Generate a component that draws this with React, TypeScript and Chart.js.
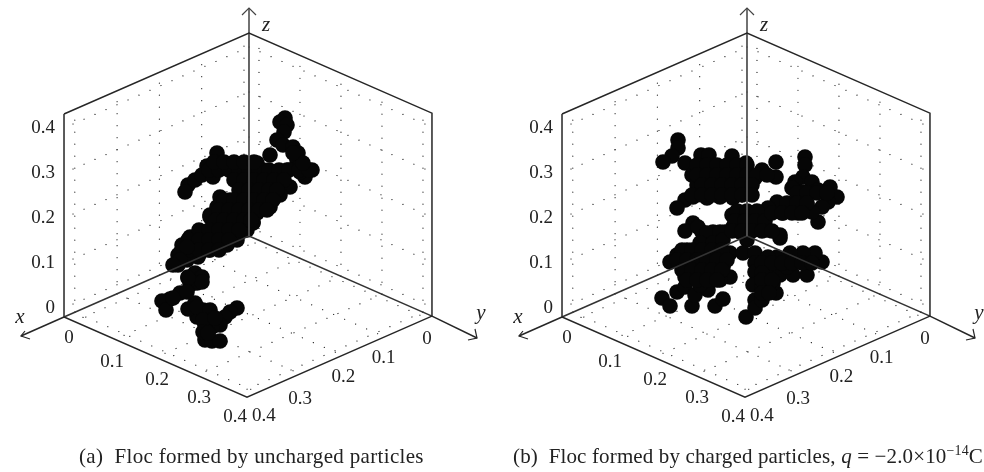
import React, { useEffect, useRef } from "react";
import { Chart, registerables } from "chart.js";

Chart.register(...registerables);

// Axis ticks (shared by x, y and z) and their printed labels
const tickValues = [0, 0.1, 0.2, 0.3, 0.4];
const tickLabels = ["0", "0.1", "0.2", "0.3", "0.4"];
// Box limits of the 3D axes
const xLimits = [-0.0118, 0.4255];
const yLimits = [-0.0244, 0.4219];
const zLimits = [-0.02, 0.431];

// Floc (a): uncharged particles, in projected plot units
const flocAU = [-44,-37,-29,-12,-19,-24,-29,-37,-44,-41,-46,-52,-61,-54,-69,-79,-87,-83,-76,-61,-54,-47,-59,-52,-47,-71,-67,-61,-54,-47,-67,-71,-59,-49,-39,-29,-22,-12,-36,-26,-16,-32,-22,-9,4,-39,-2,-52,-42,-62,-51,
  36,31,38,35,28,34,44,49,21,63,56,48,49,41,31,21,4,-32,-42,-61,-64,-54,-47,-36,-22,-7,8,14,24,38,51,1,-12,-29,-32,-39,-19,-6,4,14,-2,-9,-22,-19,-6,1,14,8,-16,-36,-49,-59,-66,-69,
  -40,-30,-20,-10,0,10,20,30,40,50,60,-15,-5,5,15,25,35,-10,0,10,20,28,-25,-15,-5,5,15,24,-30,-20,-10,0,10,18,-33,-25,-15,-5,2,-50,-40,-30,-20,-10,-60,-50,-40,-30,-20,-60,-50,-40,-30,-35,-25,-15,-5,5,54,44,
  -62,-69,-76,-61,-62,-52,-39,-46,-34,-46,-41];
const flocAV = [-104,-105,-105,-72,-76,-81,-89,-91,-89,-81,-74,-81,-73,-67,-57,-63,-65,-74,-62,-41,-37,-41,-49,-47,-46,-29,-17,-4,-1,3,-9,-19,-17,-17,-14,-7,-9,-4,-1,6,9,16,19,16,14,21,6,-11,-6,-24,-21,
  118,114,111,104,96,91,89,83,81,66,59,76,68,49,41,29,13,83,70,51,44,56,61,59,68,71,73,66,63,66,64,63,61,39,29,19,36,46,53,46,29,16,19,6,6,36,33,23,26,9,3,-1,-11,-17,
  66,66,66,66,66,66,66,66,66,66,66,56,56,56,56,56,56,46,46,46,46,46,36,36,36,36,36,36,26,26,26,26,26,26,16,16,16,16,16,6,6,6,6,6,-4,-4,-4,-4,-4,-14,-14,-14,-14,74,74,74,74,74,73,83,
  -11,-24,-29,-42,-56,-71,-74,-84,-82,-96,-97];

// Floc (b): charged particles, in projected plot units
const flocBU = [-69,-69,-75,-84,-62,-46,-38,-15,-1,29,15,29,8,-55,-44,-30,-15,-50,-37,-24,-10,3,-62,-70,-54,-40,-27,-14,58,58,56,48,45,65,83,90,81,75,71,56,60,46,30,36,51,65,71,21,10,-7,-15,-54,-62,-45,-34,-22,-10,3,16,33,
  -49,-40,-27,-14,0,-7,6,20,33,-70,-77,-60,-47,-34,-24,-60,-47,-34,-24,-17,-27,-62,-49,-37,-70,-62,-85,-77,-55,-52,-32,-24,-39,-47,
  -17,-4,8,8,8,6,8,-1,8,15,29,15,26,20,33,46,60,60,75,68,56,43,30,40,21,
  -50,-40,-30,-20,-10,0,-50,-40,-30,-20,-10,0,10,20,-45,-35,-25,-15,-5,5,-55,-45,-35,-25,-15,-5,5,-10,0,10,-12,-2,8,18,-15,-5,5,15,25,50,60,70,80,40,50,60,25,35,45,55,
  -65,-55,-45,-35,-25,-70,-60,-50,-40,-30,-20,-65,-55,-45,-35,-25,-60,-50,-40,-30,15,25,35,45,55,65,15,15,25,15,22];
const flocBV = [96,88,80,74,73,81,81,80,73,74,66,59,58,61,68,66,66,51,54,53,54,48,36,28,39,38,39,38,79,71,59,54,48,54,49,39,34,29,14,44,31,31,34,23,23,24,46,28,24,24,21,13,5,4,4,4,8,18,8,-2,
  9,3,4,9,-4,4,9,6,1,-19,-26,-14,-7,-7,-4,-27,-24,-21,-31,-41,-44,-41,-37,-37,-56,-51,-62,-70,-70,-59,-70,-63,-54,-49,
  -17,-17,-17,-27,-36,-49,-64,-81,-72,-64,-57,-52,-47,-37,-39,-39,-39,-26,-26,-17,-17,-17,-21,-31,-21,
  71,71,71,71,71,71,61,61,61,61,61,61,61,61,51,51,51,51,51,51,41,41,41,41,41,41,41,25,25,25,15,15,15,15,5,5,5,5,5,43,43,43,43,33,33,33,23,23,23,23,
  -14,-14,-14,-14,-14,-24,-24,-24,-24,-24,-24,-34,-34,-34,-34,-34,-44,-44,-44,-44,-27,-27,-27,-27,-27,-27,-37,-44,-44,-57,-57];

const FONT = '"Liberation Serif", serif';
const INK = "#222";

type Pt = { x: number; y: number };

// Isometric-like projection of the axis values on the plot plane
const project = (x: number, y: number, z: number): Pt => {
  const X = 5 + 423 * x;
  const Y = 10 + 410 * y;
  const Z = 9 + 450 * z;
  return { x: Y - X, y: Z - 0.4378 * (X + Y) };
};

const line = (data: Pt[], color: string, width: number, order: number, dash?: number[]) => ({
  type: "scatter" as const,
  data,
  showLine: true,
  borderColor: color,
  borderWidth: width,
  borderDash: dash ?? [],
  borderCapStyle: dash ? ("round" as const) : ("butt" as const),
  pointRadius: 0,
  order,
  clip: false as const,
});

const gridDatasets = () => {
  const out: any[] = [];
  const [x0, x1] = xLimits;
  const [y0, y1] = yLimits;
  const [z0, z1] = zLimits;
  const dots = [0.1, 11.9];
  const add = (a: Pt, b: Pt) => out.push(line([a, b], "#222", 1.2, 3, dots));
  tickValues.forEach((t) => {
    add(project(t, y0, z0), project(t, y0, z1));
    add(project(x0, y0, t), project(x1, y0, t));
    add(project(x0, t, z0), project(x0, t, z1));
    add(project(x0, y0, t), project(x0, y1, t));
    add(project(t, y0, z0), project(t, y1, z0));
    add(project(x0, t, z0), project(x1, t, z0));
  });
  return out;
};

const frameDatasets = () => {
  const [x0, x1] = xLimits;
  const [y0, y1] = yLimits;
  const [z0, z1] = zLimits;
  const P = project;
  const c = "#262626";
  return [
    line([P(x1, y0, z1), P(x1, y0, z0), P(x1, y1, z0), P(x0, y1, z0), P(x0, y1, z1), P(x0, y0, z1), P(x1, y0, z1)], c, 1.5, 1),
    line([P(x0, y0, z1), P(x0, y0, z0)], "#565656", 1.8, 1),
    line([P(x0, y0, z0), P(x1, y0, z0)], "#333", 1.5, 1),
    line([P(x0, y0, z0), P(x0, y1, z0)], "#333", 1.5, 1),
    // axis arrows
    line([P(x0, y0, z1), { x: 0, y: 228 }], "#444", 1.5, 1),
    line([{ x: -7, y: 221 }, { x: 0, y: 228 }, { x: 7, y: 221 }], "#444", 1.2, 1),
    line([P(x1, y0, z0), { x: -228, y: -100 }], c, 1.5, 1),
    line([{ x: -224, y: -95 }, { x: -228, y: -100 }, { x: -219, y: -103 }], c, 1.2, 1),
    line([P(x0, y1, z0), { x: 228, y: -102 }], c, 1.5, 1),
    line([{ x: 226, y: -93 }, { x: 228, y: -102 }, { x: 219, y: -104 }], c, 1.2, 1),
  ];
};

type Part = { t: string; italic?: boolean; sup?: boolean };

const labelsPlugin = (caption: Part[], captionX: number, spacing: string) => ({
  id: "labels3d",
  afterDraw(chart: any) {
    const ctx: CanvasRenderingContext2D = chart.ctx;
    const sx = chart.scales.x;
    const sy = chart.scales.y;
    const [x0, x1] = xLimits;
    const [y0, y1] = yLimits;
    const px = (p: Pt) => [sx.getPixelForValue(p.x), sy.getPixelForValue(p.y)];
    ctx.save();
    ctx.fillStyle = INK;
    ctx.textBaseline = "middle";
    ctx.font = `19px ${FONT}`;
    const yShift = [[-5, 17], [-3, 23], [1, 23], [2, 23], [-3, 24]];
    const xShift = [[0, 21], [-1, 21], [1, 22], [0, 25], [6, 24]];
    ctx.textAlign = "center";
    tickValues.forEach((t, i) => {
      const [ax, ay] = px(project(x1, t, zLimits[0]));
      ctx.fillText(tickLabels[i], ax + yShift[i][0], ay + yShift[i][1]);
      const [bx, by] = px(project(t, y1, zLimits[0]));
      ctx.fillText(tickLabels[i], bx + xShift[i][0], by + xShift[i][1]);
    });
    ctx.textAlign = "right";
    tickValues.forEach((t, i) => {
      const [cx, cy] = px(project(x1, y0, t));
      ctx.fillText(tickLabels[i], cx - 9, cy);
    });
    ctx.textAlign = "center";
    ctx.font = `italic 21px ${FONT}`;
    const [zx, zy] = px(project(x0, y0, zLimits[1]));
    ctx.fillText("z", zx + 17, zy - 8);
    const [lx, ly] = px(project(x1, y0, zLimits[0]));
    ctx.fillText("x", lx - 44, ly);
    const [rx, ry] = px(project(x0, y1, zLimits[0]));
    ctx.fillText("y", rx + 49, ry - 3);

    // caption
    ctx.textAlign = "left";
    ctx.textBaseline = "alphabetic";
    (ctx as any).letterSpacing = spacing;
    let cx = captionX;
    caption.forEach((part) => {
      ctx.font = `${part.italic ? "italic " : ""}${part.sup ? 14 : 21}px ${FONT}`;
      ctx.fillText(part.t, cx, part.sup ? 455 : 463);
      cx += ctx.measureText(part.t).width;
    });
    ctx.restore();
  },
});

function Panel({ u, v, width, caption, captionX, spacing }: { u: number[]; v: number[]; width: number; caption: Part[]; captionX: number; spacing: string }) {
  const ref = useRef<HTMLCanvasElement>(null);
  useEffect(() => {
    const particles = u.map((value, i) => ({ x: value, y: v[i] }));
    const chart = new Chart(ref.current as HTMLCanvasElement, {
      type: "scatter",
      data: {
        datasets: [
          ...frameDatasets(),
          {
            type: "scatter" as const,
            label: "Floc particles",
            data: particles,
            pointRadius: 7.8,
            pointBackgroundColor: "#060606",
            pointBorderWidth: 0,
            order: 2,
          },
          ...gridDatasets(),
        ] as any,
      },
      options: {
        animation: false,
        responsive: false,
        layout: { padding: 0, autoPadding: false },
        plugins: { legend: { display: false }, tooltip: { enabled: false } },
        scales: {
          x: { type: "linear", display: false, min: -249, max: width - 249 },
          y: { type: "linear", display: false, min: -236, max: 236 },
        },
      },
      plugins: [labelsPlugin(caption, captionX, spacing)],
    });
    return () => chart.destroy();
  }, []);
  return <canvas ref={ref} width={width} height={472} style={{ display: "block", width, height: 472 }} />;
}

const captionA: Part[] = [{ t: "(a)  Floc formed by uncharged particles" }];
const captionB: Part[] = [
  { t: "(b)  Floc formed by charged particles, " },
  { t: "q", italic: true },
  { t: " = \u22122.0\u00d710" },
  { t: "\u221214", sup: true },
  { t: "C" },
];

export default function App() {
  return (
    <div style={{ position: "absolute", left: 0, top: 0, width: 984, height: 472, display: "flex", background: "#fff" }}>
      <Panel u={flocAU} v={flocAV} width={498} caption={captionA} captionX={79} spacing="0.33px" />
      <Panel u={flocBU} v={flocBV} width={486} caption={captionB} captionX={15} spacing="0.14px" />
    </div>
  );
}
